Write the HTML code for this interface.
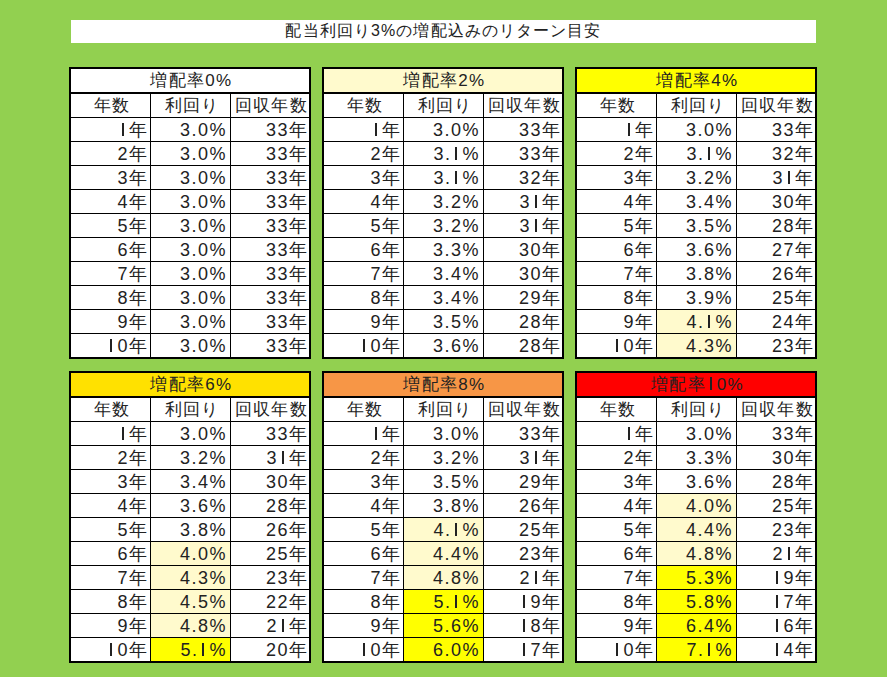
<!DOCTYPE html>
<html><head><meta charset="utf-8"><style>
html,body{margin:0;padding:0;}
body{width:887px;height:677px;background:#92D050;position:relative;overflow:hidden;font-family:"Liberation Sans",sans-serif;color:#222;}
.b{position:absolute;}
.tt{position:absolute;left:71px;top:20px;width:745px;height:23px;background:#fff;font-size:16px;line-height:21px;text-align:center;letter-spacing:1.1px;white-space:nowrap;}
.tc,.hc,.dc{position:absolute;font-size:18px;line-height:23px;white-space:nowrap;}
.tc,.hc{text-align:center;letter-spacing:1.3px;box-sizing:border-box;padding-left:3px;font-size:17px !important;}
.dc{text-align:right;box-sizing:border-box;padding-right:3px;line-height:25px;}
.c2{padding-right:2px;}
.one{display:inline-block;position:relative;width:11px;height:13px;color:transparent;overflow:hidden;vertical-align:baseline;}
.one::after{content:'';position:absolute;left:4px;top:0;width:2px;height:13px;background:#222;}
.d{letter-spacing:1.5px;}
</style></head><body>
<div class="tt">配当利回り3%の増配込みのリターン目安</div>
<div class="b" style="left:69px;top:67px;width:242px;height:292px;background:#000;"></div>
<div class="b" style="left:71px;top:69px;width:238px;height:23px;background:#FFFFFF;"></div>
<div class="tc" style="left:71px;top:69px;width:238px;height:23px">増配率0%</div>
<div class="b" style="left:71px;top:94px;width:79px;height:23px;background:#fff;"></div>
<div class="hc" style="left:71px;top:94px;width:79px;height:23px">年数</div>
<div class="b" style="left:151px;top:94px;width:79px;height:23px;background:#fff;"></div>
<div class="hc" style="left:151px;top:94px;width:79px;height:23px">利回り</div>
<div class="b" style="left:231px;top:94px;width:78px;height:23px;background:#fff;"></div>
<div class="hc" style="left:231px;top:94px;width:78px;height:23px">回収年数</div>
<div class="b" style="left:71px;top:118px;width:79px;height:23px;background:#fff;"></div>
<div class="dc" style="left:71px;top:118px;width:79px;height:23px"><span class="d"><span class="one">1</span></span>年</div>
<div class="b" style="left:151px;top:118px;width:79px;height:23px;background:#fff;"></div>
<div class="dc" style="left:151px;top:118px;width:79px;height:23px"><span class="d">3.0%</span></div>
<div class="b" style="left:231px;top:118px;width:78px;height:23px;background:#fff;"></div>
<div class="dc c2" style="left:231px;top:118px;width:78px;height:23px"><span class="d">33</span>年</div>
<div class="b" style="left:71px;top:142px;width:79px;height:23px;background:#fff;"></div>
<div class="dc" style="left:71px;top:142px;width:79px;height:23px"><span class="d">2</span>年</div>
<div class="b" style="left:151px;top:142px;width:79px;height:23px;background:#fff;"></div>
<div class="dc" style="left:151px;top:142px;width:79px;height:23px"><span class="d">3.0%</span></div>
<div class="b" style="left:231px;top:142px;width:78px;height:23px;background:#fff;"></div>
<div class="dc c2" style="left:231px;top:142px;width:78px;height:23px"><span class="d">33</span>年</div>
<div class="b" style="left:71px;top:166px;width:79px;height:23px;background:#fff;"></div>
<div class="dc" style="left:71px;top:166px;width:79px;height:23px"><span class="d">3</span>年</div>
<div class="b" style="left:151px;top:166px;width:79px;height:23px;background:#fff;"></div>
<div class="dc" style="left:151px;top:166px;width:79px;height:23px"><span class="d">3.0%</span></div>
<div class="b" style="left:231px;top:166px;width:78px;height:23px;background:#fff;"></div>
<div class="dc c2" style="left:231px;top:166px;width:78px;height:23px"><span class="d">33</span>年</div>
<div class="b" style="left:71px;top:190px;width:79px;height:23px;background:#fff;"></div>
<div class="dc" style="left:71px;top:190px;width:79px;height:23px"><span class="d">4</span>年</div>
<div class="b" style="left:151px;top:190px;width:79px;height:23px;background:#fff;"></div>
<div class="dc" style="left:151px;top:190px;width:79px;height:23px"><span class="d">3.0%</span></div>
<div class="b" style="left:231px;top:190px;width:78px;height:23px;background:#fff;"></div>
<div class="dc c2" style="left:231px;top:190px;width:78px;height:23px"><span class="d">33</span>年</div>
<div class="b" style="left:71px;top:214px;width:79px;height:23px;background:#fff;"></div>
<div class="dc" style="left:71px;top:214px;width:79px;height:23px"><span class="d">5</span>年</div>
<div class="b" style="left:151px;top:214px;width:79px;height:23px;background:#fff;"></div>
<div class="dc" style="left:151px;top:214px;width:79px;height:23px"><span class="d">3.0%</span></div>
<div class="b" style="left:231px;top:214px;width:78px;height:23px;background:#fff;"></div>
<div class="dc c2" style="left:231px;top:214px;width:78px;height:23px"><span class="d">33</span>年</div>
<div class="b" style="left:71px;top:238px;width:79px;height:23px;background:#fff;"></div>
<div class="dc" style="left:71px;top:238px;width:79px;height:23px"><span class="d">6</span>年</div>
<div class="b" style="left:151px;top:238px;width:79px;height:23px;background:#fff;"></div>
<div class="dc" style="left:151px;top:238px;width:79px;height:23px"><span class="d">3.0%</span></div>
<div class="b" style="left:231px;top:238px;width:78px;height:23px;background:#fff;"></div>
<div class="dc c2" style="left:231px;top:238px;width:78px;height:23px"><span class="d">33</span>年</div>
<div class="b" style="left:71px;top:262px;width:79px;height:23px;background:#fff;"></div>
<div class="dc" style="left:71px;top:262px;width:79px;height:23px"><span class="d">7</span>年</div>
<div class="b" style="left:151px;top:262px;width:79px;height:23px;background:#fff;"></div>
<div class="dc" style="left:151px;top:262px;width:79px;height:23px"><span class="d">3.0%</span></div>
<div class="b" style="left:231px;top:262px;width:78px;height:23px;background:#fff;"></div>
<div class="dc c2" style="left:231px;top:262px;width:78px;height:23px"><span class="d">33</span>年</div>
<div class="b" style="left:71px;top:286px;width:79px;height:23px;background:#fff;"></div>
<div class="dc" style="left:71px;top:286px;width:79px;height:23px"><span class="d">8</span>年</div>
<div class="b" style="left:151px;top:286px;width:79px;height:23px;background:#fff;"></div>
<div class="dc" style="left:151px;top:286px;width:79px;height:23px"><span class="d">3.0%</span></div>
<div class="b" style="left:231px;top:286px;width:78px;height:23px;background:#fff;"></div>
<div class="dc c2" style="left:231px;top:286px;width:78px;height:23px"><span class="d">33</span>年</div>
<div class="b" style="left:71px;top:310px;width:79px;height:23px;background:#fff;"></div>
<div class="dc" style="left:71px;top:310px;width:79px;height:23px"><span class="d">9</span>年</div>
<div class="b" style="left:151px;top:310px;width:79px;height:23px;background:#fff;"></div>
<div class="dc" style="left:151px;top:310px;width:79px;height:23px"><span class="d">3.0%</span></div>
<div class="b" style="left:231px;top:310px;width:78px;height:23px;background:#fff;"></div>
<div class="dc c2" style="left:231px;top:310px;width:78px;height:23px"><span class="d">33</span>年</div>
<div class="b" style="left:71px;top:334px;width:79px;height:23px;background:#fff;"></div>
<div class="dc" style="left:71px;top:334px;width:79px;height:23px"><span class="d"><span class="one">1</span>0</span>年</div>
<div class="b" style="left:151px;top:334px;width:79px;height:23px;background:#fff;"></div>
<div class="dc" style="left:151px;top:334px;width:79px;height:23px"><span class="d">3.0%</span></div>
<div class="b" style="left:231px;top:334px;width:78px;height:23px;background:#fff;"></div>
<div class="dc c2" style="left:231px;top:334px;width:78px;height:23px"><span class="d">33</span>年</div>
<div class="b" style="left:322px;top:67px;width:242px;height:292px;background:#000;"></div>
<div class="b" style="left:324px;top:69px;width:238px;height:23px;background:#FFFACD;"></div>
<div class="tc" style="left:324px;top:69px;width:238px;height:23px">増配率2%</div>
<div class="b" style="left:324px;top:94px;width:79px;height:23px;background:#fff;"></div>
<div class="hc" style="left:324px;top:94px;width:79px;height:23px">年数</div>
<div class="b" style="left:404px;top:94px;width:79px;height:23px;background:#fff;"></div>
<div class="hc" style="left:404px;top:94px;width:79px;height:23px">利回り</div>
<div class="b" style="left:484px;top:94px;width:78px;height:23px;background:#fff;"></div>
<div class="hc" style="left:484px;top:94px;width:78px;height:23px">回収年数</div>
<div class="b" style="left:324px;top:118px;width:79px;height:23px;background:#fff;"></div>
<div class="dc" style="left:324px;top:118px;width:79px;height:23px"><span class="d"><span class="one">1</span></span>年</div>
<div class="b" style="left:404px;top:118px;width:79px;height:23px;background:#fff;"></div>
<div class="dc" style="left:404px;top:118px;width:79px;height:23px"><span class="d">3.0%</span></div>
<div class="b" style="left:484px;top:118px;width:78px;height:23px;background:#fff;"></div>
<div class="dc c2" style="left:484px;top:118px;width:78px;height:23px"><span class="d">33</span>年</div>
<div class="b" style="left:324px;top:142px;width:79px;height:23px;background:#fff;"></div>
<div class="dc" style="left:324px;top:142px;width:79px;height:23px"><span class="d">2</span>年</div>
<div class="b" style="left:404px;top:142px;width:79px;height:23px;background:#fff;"></div>
<div class="dc" style="left:404px;top:142px;width:79px;height:23px"><span class="d">3.<span class="one">1</span>%</span></div>
<div class="b" style="left:484px;top:142px;width:78px;height:23px;background:#fff;"></div>
<div class="dc c2" style="left:484px;top:142px;width:78px;height:23px"><span class="d">33</span>年</div>
<div class="b" style="left:324px;top:166px;width:79px;height:23px;background:#fff;"></div>
<div class="dc" style="left:324px;top:166px;width:79px;height:23px"><span class="d">3</span>年</div>
<div class="b" style="left:404px;top:166px;width:79px;height:23px;background:#fff;"></div>
<div class="dc" style="left:404px;top:166px;width:79px;height:23px"><span class="d">3.<span class="one">1</span>%</span></div>
<div class="b" style="left:484px;top:166px;width:78px;height:23px;background:#fff;"></div>
<div class="dc c2" style="left:484px;top:166px;width:78px;height:23px"><span class="d">32</span>年</div>
<div class="b" style="left:324px;top:190px;width:79px;height:23px;background:#fff;"></div>
<div class="dc" style="left:324px;top:190px;width:79px;height:23px"><span class="d">4</span>年</div>
<div class="b" style="left:404px;top:190px;width:79px;height:23px;background:#fff;"></div>
<div class="dc" style="left:404px;top:190px;width:79px;height:23px"><span class="d">3.2%</span></div>
<div class="b" style="left:484px;top:190px;width:78px;height:23px;background:#fff;"></div>
<div class="dc c2" style="left:484px;top:190px;width:78px;height:23px"><span class="d">3<span class="one">1</span></span>年</div>
<div class="b" style="left:324px;top:214px;width:79px;height:23px;background:#fff;"></div>
<div class="dc" style="left:324px;top:214px;width:79px;height:23px"><span class="d">5</span>年</div>
<div class="b" style="left:404px;top:214px;width:79px;height:23px;background:#fff;"></div>
<div class="dc" style="left:404px;top:214px;width:79px;height:23px"><span class="d">3.2%</span></div>
<div class="b" style="left:484px;top:214px;width:78px;height:23px;background:#fff;"></div>
<div class="dc c2" style="left:484px;top:214px;width:78px;height:23px"><span class="d">3<span class="one">1</span></span>年</div>
<div class="b" style="left:324px;top:238px;width:79px;height:23px;background:#fff;"></div>
<div class="dc" style="left:324px;top:238px;width:79px;height:23px"><span class="d">6</span>年</div>
<div class="b" style="left:404px;top:238px;width:79px;height:23px;background:#fff;"></div>
<div class="dc" style="left:404px;top:238px;width:79px;height:23px"><span class="d">3.3%</span></div>
<div class="b" style="left:484px;top:238px;width:78px;height:23px;background:#fff;"></div>
<div class="dc c2" style="left:484px;top:238px;width:78px;height:23px"><span class="d">30</span>年</div>
<div class="b" style="left:324px;top:262px;width:79px;height:23px;background:#fff;"></div>
<div class="dc" style="left:324px;top:262px;width:79px;height:23px"><span class="d">7</span>年</div>
<div class="b" style="left:404px;top:262px;width:79px;height:23px;background:#fff;"></div>
<div class="dc" style="left:404px;top:262px;width:79px;height:23px"><span class="d">3.4%</span></div>
<div class="b" style="left:484px;top:262px;width:78px;height:23px;background:#fff;"></div>
<div class="dc c2" style="left:484px;top:262px;width:78px;height:23px"><span class="d">30</span>年</div>
<div class="b" style="left:324px;top:286px;width:79px;height:23px;background:#fff;"></div>
<div class="dc" style="left:324px;top:286px;width:79px;height:23px"><span class="d">8</span>年</div>
<div class="b" style="left:404px;top:286px;width:79px;height:23px;background:#fff;"></div>
<div class="dc" style="left:404px;top:286px;width:79px;height:23px"><span class="d">3.4%</span></div>
<div class="b" style="left:484px;top:286px;width:78px;height:23px;background:#fff;"></div>
<div class="dc c2" style="left:484px;top:286px;width:78px;height:23px"><span class="d">29</span>年</div>
<div class="b" style="left:324px;top:310px;width:79px;height:23px;background:#fff;"></div>
<div class="dc" style="left:324px;top:310px;width:79px;height:23px"><span class="d">9</span>年</div>
<div class="b" style="left:404px;top:310px;width:79px;height:23px;background:#fff;"></div>
<div class="dc" style="left:404px;top:310px;width:79px;height:23px"><span class="d">3.5%</span></div>
<div class="b" style="left:484px;top:310px;width:78px;height:23px;background:#fff;"></div>
<div class="dc c2" style="left:484px;top:310px;width:78px;height:23px"><span class="d">28</span>年</div>
<div class="b" style="left:324px;top:334px;width:79px;height:23px;background:#fff;"></div>
<div class="dc" style="left:324px;top:334px;width:79px;height:23px"><span class="d"><span class="one">1</span>0</span>年</div>
<div class="b" style="left:404px;top:334px;width:79px;height:23px;background:#fff;"></div>
<div class="dc" style="left:404px;top:334px;width:79px;height:23px"><span class="d">3.6%</span></div>
<div class="b" style="left:484px;top:334px;width:78px;height:23px;background:#fff;"></div>
<div class="dc c2" style="left:484px;top:334px;width:78px;height:23px"><span class="d">28</span>年</div>
<div class="b" style="left:575px;top:67px;width:242px;height:292px;background:#000;"></div>
<div class="b" style="left:577px;top:69px;width:238px;height:23px;background:#FFFF00;"></div>
<div class="tc" style="left:577px;top:69px;width:238px;height:23px">増配率4%</div>
<div class="b" style="left:577px;top:94px;width:79px;height:23px;background:#fff;"></div>
<div class="hc" style="left:577px;top:94px;width:79px;height:23px">年数</div>
<div class="b" style="left:657px;top:94px;width:79px;height:23px;background:#fff;"></div>
<div class="hc" style="left:657px;top:94px;width:79px;height:23px">利回り</div>
<div class="b" style="left:737px;top:94px;width:78px;height:23px;background:#fff;"></div>
<div class="hc" style="left:737px;top:94px;width:78px;height:23px">回収年数</div>
<div class="b" style="left:577px;top:118px;width:79px;height:23px;background:#fff;"></div>
<div class="dc" style="left:577px;top:118px;width:79px;height:23px"><span class="d"><span class="one">1</span></span>年</div>
<div class="b" style="left:657px;top:118px;width:79px;height:23px;background:#fff;"></div>
<div class="dc" style="left:657px;top:118px;width:79px;height:23px"><span class="d">3.0%</span></div>
<div class="b" style="left:737px;top:118px;width:78px;height:23px;background:#fff;"></div>
<div class="dc c2" style="left:737px;top:118px;width:78px;height:23px"><span class="d">33</span>年</div>
<div class="b" style="left:577px;top:142px;width:79px;height:23px;background:#fff;"></div>
<div class="dc" style="left:577px;top:142px;width:79px;height:23px"><span class="d">2</span>年</div>
<div class="b" style="left:657px;top:142px;width:79px;height:23px;background:#fff;"></div>
<div class="dc" style="left:657px;top:142px;width:79px;height:23px"><span class="d">3.<span class="one">1</span>%</span></div>
<div class="b" style="left:737px;top:142px;width:78px;height:23px;background:#fff;"></div>
<div class="dc c2" style="left:737px;top:142px;width:78px;height:23px"><span class="d">32</span>年</div>
<div class="b" style="left:577px;top:166px;width:79px;height:23px;background:#fff;"></div>
<div class="dc" style="left:577px;top:166px;width:79px;height:23px"><span class="d">3</span>年</div>
<div class="b" style="left:657px;top:166px;width:79px;height:23px;background:#fff;"></div>
<div class="dc" style="left:657px;top:166px;width:79px;height:23px"><span class="d">3.2%</span></div>
<div class="b" style="left:737px;top:166px;width:78px;height:23px;background:#fff;"></div>
<div class="dc c2" style="left:737px;top:166px;width:78px;height:23px"><span class="d">3<span class="one">1</span></span>年</div>
<div class="b" style="left:577px;top:190px;width:79px;height:23px;background:#fff;"></div>
<div class="dc" style="left:577px;top:190px;width:79px;height:23px"><span class="d">4</span>年</div>
<div class="b" style="left:657px;top:190px;width:79px;height:23px;background:#fff;"></div>
<div class="dc" style="left:657px;top:190px;width:79px;height:23px"><span class="d">3.4%</span></div>
<div class="b" style="left:737px;top:190px;width:78px;height:23px;background:#fff;"></div>
<div class="dc c2" style="left:737px;top:190px;width:78px;height:23px"><span class="d">30</span>年</div>
<div class="b" style="left:577px;top:214px;width:79px;height:23px;background:#fff;"></div>
<div class="dc" style="left:577px;top:214px;width:79px;height:23px"><span class="d">5</span>年</div>
<div class="b" style="left:657px;top:214px;width:79px;height:23px;background:#fff;"></div>
<div class="dc" style="left:657px;top:214px;width:79px;height:23px"><span class="d">3.5%</span></div>
<div class="b" style="left:737px;top:214px;width:78px;height:23px;background:#fff;"></div>
<div class="dc c2" style="left:737px;top:214px;width:78px;height:23px"><span class="d">28</span>年</div>
<div class="b" style="left:577px;top:238px;width:79px;height:23px;background:#fff;"></div>
<div class="dc" style="left:577px;top:238px;width:79px;height:23px"><span class="d">6</span>年</div>
<div class="b" style="left:657px;top:238px;width:79px;height:23px;background:#fff;"></div>
<div class="dc" style="left:657px;top:238px;width:79px;height:23px"><span class="d">3.6%</span></div>
<div class="b" style="left:737px;top:238px;width:78px;height:23px;background:#fff;"></div>
<div class="dc c2" style="left:737px;top:238px;width:78px;height:23px"><span class="d">27</span>年</div>
<div class="b" style="left:577px;top:262px;width:79px;height:23px;background:#fff;"></div>
<div class="dc" style="left:577px;top:262px;width:79px;height:23px"><span class="d">7</span>年</div>
<div class="b" style="left:657px;top:262px;width:79px;height:23px;background:#fff;"></div>
<div class="dc" style="left:657px;top:262px;width:79px;height:23px"><span class="d">3.8%</span></div>
<div class="b" style="left:737px;top:262px;width:78px;height:23px;background:#fff;"></div>
<div class="dc c2" style="left:737px;top:262px;width:78px;height:23px"><span class="d">26</span>年</div>
<div class="b" style="left:577px;top:286px;width:79px;height:23px;background:#fff;"></div>
<div class="dc" style="left:577px;top:286px;width:79px;height:23px"><span class="d">8</span>年</div>
<div class="b" style="left:657px;top:286px;width:79px;height:23px;background:#fff;"></div>
<div class="dc" style="left:657px;top:286px;width:79px;height:23px"><span class="d">3.9%</span></div>
<div class="b" style="left:737px;top:286px;width:78px;height:23px;background:#fff;"></div>
<div class="dc c2" style="left:737px;top:286px;width:78px;height:23px"><span class="d">25</span>年</div>
<div class="b" style="left:577px;top:310px;width:79px;height:23px;background:#fff;"></div>
<div class="dc" style="left:577px;top:310px;width:79px;height:23px"><span class="d">9</span>年</div>
<div class="b" style="left:657px;top:310px;width:79px;height:23px;background:#FFFACD;"></div>
<div class="dc" style="left:657px;top:310px;width:79px;height:23px"><span class="d">4.<span class="one">1</span>%</span></div>
<div class="b" style="left:737px;top:310px;width:78px;height:23px;background:#fff;"></div>
<div class="dc c2" style="left:737px;top:310px;width:78px;height:23px"><span class="d">24</span>年</div>
<div class="b" style="left:577px;top:334px;width:79px;height:23px;background:#fff;"></div>
<div class="dc" style="left:577px;top:334px;width:79px;height:23px"><span class="d"><span class="one">1</span>0</span>年</div>
<div class="b" style="left:657px;top:334px;width:79px;height:23px;background:#FFFACD;"></div>
<div class="dc" style="left:657px;top:334px;width:79px;height:23px"><span class="d">4.3%</span></div>
<div class="b" style="left:737px;top:334px;width:78px;height:23px;background:#fff;"></div>
<div class="dc c2" style="left:737px;top:334px;width:78px;height:23px"><span class="d">23</span>年</div>
<div class="b" style="left:69px;top:371px;width:242px;height:292px;background:#000;"></div>
<div class="b" style="left:71px;top:373px;width:238px;height:23px;background:#FFE100;"></div>
<div class="tc" style="left:71px;top:373px;width:238px;height:23px">増配率6%</div>
<div class="b" style="left:71px;top:398px;width:79px;height:23px;background:#fff;"></div>
<div class="hc" style="left:71px;top:398px;width:79px;height:23px">年数</div>
<div class="b" style="left:151px;top:398px;width:79px;height:23px;background:#fff;"></div>
<div class="hc" style="left:151px;top:398px;width:79px;height:23px">利回り</div>
<div class="b" style="left:231px;top:398px;width:78px;height:23px;background:#fff;"></div>
<div class="hc" style="left:231px;top:398px;width:78px;height:23px">回収年数</div>
<div class="b" style="left:71px;top:422px;width:79px;height:23px;background:#fff;"></div>
<div class="dc" style="left:71px;top:422px;width:79px;height:23px"><span class="d"><span class="one">1</span></span>年</div>
<div class="b" style="left:151px;top:422px;width:79px;height:23px;background:#fff;"></div>
<div class="dc" style="left:151px;top:422px;width:79px;height:23px"><span class="d">3.0%</span></div>
<div class="b" style="left:231px;top:422px;width:78px;height:23px;background:#fff;"></div>
<div class="dc c2" style="left:231px;top:422px;width:78px;height:23px"><span class="d">33</span>年</div>
<div class="b" style="left:71px;top:446px;width:79px;height:23px;background:#fff;"></div>
<div class="dc" style="left:71px;top:446px;width:79px;height:23px"><span class="d">2</span>年</div>
<div class="b" style="left:151px;top:446px;width:79px;height:23px;background:#fff;"></div>
<div class="dc" style="left:151px;top:446px;width:79px;height:23px"><span class="d">3.2%</span></div>
<div class="b" style="left:231px;top:446px;width:78px;height:23px;background:#fff;"></div>
<div class="dc c2" style="left:231px;top:446px;width:78px;height:23px"><span class="d">3<span class="one">1</span></span>年</div>
<div class="b" style="left:71px;top:470px;width:79px;height:23px;background:#fff;"></div>
<div class="dc" style="left:71px;top:470px;width:79px;height:23px"><span class="d">3</span>年</div>
<div class="b" style="left:151px;top:470px;width:79px;height:23px;background:#fff;"></div>
<div class="dc" style="left:151px;top:470px;width:79px;height:23px"><span class="d">3.4%</span></div>
<div class="b" style="left:231px;top:470px;width:78px;height:23px;background:#fff;"></div>
<div class="dc c2" style="left:231px;top:470px;width:78px;height:23px"><span class="d">30</span>年</div>
<div class="b" style="left:71px;top:494px;width:79px;height:23px;background:#fff;"></div>
<div class="dc" style="left:71px;top:494px;width:79px;height:23px"><span class="d">4</span>年</div>
<div class="b" style="left:151px;top:494px;width:79px;height:23px;background:#fff;"></div>
<div class="dc" style="left:151px;top:494px;width:79px;height:23px"><span class="d">3.6%</span></div>
<div class="b" style="left:231px;top:494px;width:78px;height:23px;background:#fff;"></div>
<div class="dc c2" style="left:231px;top:494px;width:78px;height:23px"><span class="d">28</span>年</div>
<div class="b" style="left:71px;top:518px;width:79px;height:23px;background:#fff;"></div>
<div class="dc" style="left:71px;top:518px;width:79px;height:23px"><span class="d">5</span>年</div>
<div class="b" style="left:151px;top:518px;width:79px;height:23px;background:#fff;"></div>
<div class="dc" style="left:151px;top:518px;width:79px;height:23px"><span class="d">3.8%</span></div>
<div class="b" style="left:231px;top:518px;width:78px;height:23px;background:#fff;"></div>
<div class="dc c2" style="left:231px;top:518px;width:78px;height:23px"><span class="d">26</span>年</div>
<div class="b" style="left:71px;top:542px;width:79px;height:23px;background:#fff;"></div>
<div class="dc" style="left:71px;top:542px;width:79px;height:23px"><span class="d">6</span>年</div>
<div class="b" style="left:151px;top:542px;width:79px;height:23px;background:#FFFACD;"></div>
<div class="dc" style="left:151px;top:542px;width:79px;height:23px"><span class="d">4.0%</span></div>
<div class="b" style="left:231px;top:542px;width:78px;height:23px;background:#fff;"></div>
<div class="dc c2" style="left:231px;top:542px;width:78px;height:23px"><span class="d">25</span>年</div>
<div class="b" style="left:71px;top:566px;width:79px;height:23px;background:#fff;"></div>
<div class="dc" style="left:71px;top:566px;width:79px;height:23px"><span class="d">7</span>年</div>
<div class="b" style="left:151px;top:566px;width:79px;height:23px;background:#FFFACD;"></div>
<div class="dc" style="left:151px;top:566px;width:79px;height:23px"><span class="d">4.3%</span></div>
<div class="b" style="left:231px;top:566px;width:78px;height:23px;background:#fff;"></div>
<div class="dc c2" style="left:231px;top:566px;width:78px;height:23px"><span class="d">23</span>年</div>
<div class="b" style="left:71px;top:590px;width:79px;height:23px;background:#fff;"></div>
<div class="dc" style="left:71px;top:590px;width:79px;height:23px"><span class="d">8</span>年</div>
<div class="b" style="left:151px;top:590px;width:79px;height:23px;background:#FFFACD;"></div>
<div class="dc" style="left:151px;top:590px;width:79px;height:23px"><span class="d">4.5%</span></div>
<div class="b" style="left:231px;top:590px;width:78px;height:23px;background:#fff;"></div>
<div class="dc c2" style="left:231px;top:590px;width:78px;height:23px"><span class="d">22</span>年</div>
<div class="b" style="left:71px;top:614px;width:79px;height:23px;background:#fff;"></div>
<div class="dc" style="left:71px;top:614px;width:79px;height:23px"><span class="d">9</span>年</div>
<div class="b" style="left:151px;top:614px;width:79px;height:23px;background:#FFFACD;"></div>
<div class="dc" style="left:151px;top:614px;width:79px;height:23px"><span class="d">4.8%</span></div>
<div class="b" style="left:231px;top:614px;width:78px;height:23px;background:#fff;"></div>
<div class="dc c2" style="left:231px;top:614px;width:78px;height:23px"><span class="d">2<span class="one">1</span></span>年</div>
<div class="b" style="left:71px;top:638px;width:79px;height:23px;background:#fff;"></div>
<div class="dc" style="left:71px;top:638px;width:79px;height:23px"><span class="d"><span class="one">1</span>0</span>年</div>
<div class="b" style="left:151px;top:638px;width:79px;height:23px;background:#FFFF00;"></div>
<div class="dc" style="left:151px;top:638px;width:79px;height:23px"><span class="d">5.<span class="one">1</span>%</span></div>
<div class="b" style="left:231px;top:638px;width:78px;height:23px;background:#fff;"></div>
<div class="dc c2" style="left:231px;top:638px;width:78px;height:23px"><span class="d">20</span>年</div>
<div class="b" style="left:322px;top:371px;width:242px;height:292px;background:#000;"></div>
<div class="b" style="left:324px;top:373px;width:238px;height:23px;background:#F79646;"></div>
<div class="tc" style="left:324px;top:373px;width:238px;height:23px">増配率8%</div>
<div class="b" style="left:324px;top:398px;width:79px;height:23px;background:#fff;"></div>
<div class="hc" style="left:324px;top:398px;width:79px;height:23px">年数</div>
<div class="b" style="left:404px;top:398px;width:79px;height:23px;background:#fff;"></div>
<div class="hc" style="left:404px;top:398px;width:79px;height:23px">利回り</div>
<div class="b" style="left:484px;top:398px;width:78px;height:23px;background:#fff;"></div>
<div class="hc" style="left:484px;top:398px;width:78px;height:23px">回収年数</div>
<div class="b" style="left:324px;top:422px;width:79px;height:23px;background:#fff;"></div>
<div class="dc" style="left:324px;top:422px;width:79px;height:23px"><span class="d"><span class="one">1</span></span>年</div>
<div class="b" style="left:404px;top:422px;width:79px;height:23px;background:#fff;"></div>
<div class="dc" style="left:404px;top:422px;width:79px;height:23px"><span class="d">3.0%</span></div>
<div class="b" style="left:484px;top:422px;width:78px;height:23px;background:#fff;"></div>
<div class="dc c2" style="left:484px;top:422px;width:78px;height:23px"><span class="d">33</span>年</div>
<div class="b" style="left:324px;top:446px;width:79px;height:23px;background:#fff;"></div>
<div class="dc" style="left:324px;top:446px;width:79px;height:23px"><span class="d">2</span>年</div>
<div class="b" style="left:404px;top:446px;width:79px;height:23px;background:#fff;"></div>
<div class="dc" style="left:404px;top:446px;width:79px;height:23px"><span class="d">3.2%</span></div>
<div class="b" style="left:484px;top:446px;width:78px;height:23px;background:#fff;"></div>
<div class="dc c2" style="left:484px;top:446px;width:78px;height:23px"><span class="d">3<span class="one">1</span></span>年</div>
<div class="b" style="left:324px;top:470px;width:79px;height:23px;background:#fff;"></div>
<div class="dc" style="left:324px;top:470px;width:79px;height:23px"><span class="d">3</span>年</div>
<div class="b" style="left:404px;top:470px;width:79px;height:23px;background:#fff;"></div>
<div class="dc" style="left:404px;top:470px;width:79px;height:23px"><span class="d">3.5%</span></div>
<div class="b" style="left:484px;top:470px;width:78px;height:23px;background:#fff;"></div>
<div class="dc c2" style="left:484px;top:470px;width:78px;height:23px"><span class="d">29</span>年</div>
<div class="b" style="left:324px;top:494px;width:79px;height:23px;background:#fff;"></div>
<div class="dc" style="left:324px;top:494px;width:79px;height:23px"><span class="d">4</span>年</div>
<div class="b" style="left:404px;top:494px;width:79px;height:23px;background:#fff;"></div>
<div class="dc" style="left:404px;top:494px;width:79px;height:23px"><span class="d">3.8%</span></div>
<div class="b" style="left:484px;top:494px;width:78px;height:23px;background:#fff;"></div>
<div class="dc c2" style="left:484px;top:494px;width:78px;height:23px"><span class="d">26</span>年</div>
<div class="b" style="left:324px;top:518px;width:79px;height:23px;background:#fff;"></div>
<div class="dc" style="left:324px;top:518px;width:79px;height:23px"><span class="d">5</span>年</div>
<div class="b" style="left:404px;top:518px;width:79px;height:23px;background:#FFFACD;"></div>
<div class="dc" style="left:404px;top:518px;width:79px;height:23px"><span class="d">4.<span class="one">1</span>%</span></div>
<div class="b" style="left:484px;top:518px;width:78px;height:23px;background:#fff;"></div>
<div class="dc c2" style="left:484px;top:518px;width:78px;height:23px"><span class="d">25</span>年</div>
<div class="b" style="left:324px;top:542px;width:79px;height:23px;background:#fff;"></div>
<div class="dc" style="left:324px;top:542px;width:79px;height:23px"><span class="d">6</span>年</div>
<div class="b" style="left:404px;top:542px;width:79px;height:23px;background:#FFFACD;"></div>
<div class="dc" style="left:404px;top:542px;width:79px;height:23px"><span class="d">4.4%</span></div>
<div class="b" style="left:484px;top:542px;width:78px;height:23px;background:#fff;"></div>
<div class="dc c2" style="left:484px;top:542px;width:78px;height:23px"><span class="d">23</span>年</div>
<div class="b" style="left:324px;top:566px;width:79px;height:23px;background:#fff;"></div>
<div class="dc" style="left:324px;top:566px;width:79px;height:23px"><span class="d">7</span>年</div>
<div class="b" style="left:404px;top:566px;width:79px;height:23px;background:#FFFACD;"></div>
<div class="dc" style="left:404px;top:566px;width:79px;height:23px"><span class="d">4.8%</span></div>
<div class="b" style="left:484px;top:566px;width:78px;height:23px;background:#fff;"></div>
<div class="dc c2" style="left:484px;top:566px;width:78px;height:23px"><span class="d">2<span class="one">1</span></span>年</div>
<div class="b" style="left:324px;top:590px;width:79px;height:23px;background:#fff;"></div>
<div class="dc" style="left:324px;top:590px;width:79px;height:23px"><span class="d">8</span>年</div>
<div class="b" style="left:404px;top:590px;width:79px;height:23px;background:#FFFF00;"></div>
<div class="dc" style="left:404px;top:590px;width:79px;height:23px"><span class="d">5.<span class="one">1</span>%</span></div>
<div class="b" style="left:484px;top:590px;width:78px;height:23px;background:#fff;"></div>
<div class="dc c2" style="left:484px;top:590px;width:78px;height:23px"><span class="d"><span class="one">1</span>9</span>年</div>
<div class="b" style="left:324px;top:614px;width:79px;height:23px;background:#fff;"></div>
<div class="dc" style="left:324px;top:614px;width:79px;height:23px"><span class="d">9</span>年</div>
<div class="b" style="left:404px;top:614px;width:79px;height:23px;background:#FFFF00;"></div>
<div class="dc" style="left:404px;top:614px;width:79px;height:23px"><span class="d">5.6%</span></div>
<div class="b" style="left:484px;top:614px;width:78px;height:23px;background:#fff;"></div>
<div class="dc c2" style="left:484px;top:614px;width:78px;height:23px"><span class="d"><span class="one">1</span>8</span>年</div>
<div class="b" style="left:324px;top:638px;width:79px;height:23px;background:#fff;"></div>
<div class="dc" style="left:324px;top:638px;width:79px;height:23px"><span class="d"><span class="one">1</span>0</span>年</div>
<div class="b" style="left:404px;top:638px;width:79px;height:23px;background:#FFFF00;"></div>
<div class="dc" style="left:404px;top:638px;width:79px;height:23px"><span class="d">6.0%</span></div>
<div class="b" style="left:484px;top:638px;width:78px;height:23px;background:#fff;"></div>
<div class="dc c2" style="left:484px;top:638px;width:78px;height:23px"><span class="d"><span class="one">1</span>7</span>年</div>
<div class="b" style="left:575px;top:371px;width:242px;height:292px;background:#000;"></div>
<div class="b" style="left:577px;top:373px;width:238px;height:23px;background:#FF0000;"></div>
<div class="tc" style="left:577px;top:373px;width:238px;height:23px">増配率<span class="one">1</span>0%</div>
<div class="b" style="left:577px;top:398px;width:79px;height:23px;background:#fff;"></div>
<div class="hc" style="left:577px;top:398px;width:79px;height:23px">年数</div>
<div class="b" style="left:657px;top:398px;width:79px;height:23px;background:#fff;"></div>
<div class="hc" style="left:657px;top:398px;width:79px;height:23px">利回り</div>
<div class="b" style="left:737px;top:398px;width:78px;height:23px;background:#fff;"></div>
<div class="hc" style="left:737px;top:398px;width:78px;height:23px">回収年数</div>
<div class="b" style="left:577px;top:422px;width:79px;height:23px;background:#fff;"></div>
<div class="dc" style="left:577px;top:422px;width:79px;height:23px"><span class="d"><span class="one">1</span></span>年</div>
<div class="b" style="left:657px;top:422px;width:79px;height:23px;background:#fff;"></div>
<div class="dc" style="left:657px;top:422px;width:79px;height:23px"><span class="d">3.0%</span></div>
<div class="b" style="left:737px;top:422px;width:78px;height:23px;background:#fff;"></div>
<div class="dc c2" style="left:737px;top:422px;width:78px;height:23px"><span class="d">33</span>年</div>
<div class="b" style="left:577px;top:446px;width:79px;height:23px;background:#fff;"></div>
<div class="dc" style="left:577px;top:446px;width:79px;height:23px"><span class="d">2</span>年</div>
<div class="b" style="left:657px;top:446px;width:79px;height:23px;background:#fff;"></div>
<div class="dc" style="left:657px;top:446px;width:79px;height:23px"><span class="d">3.3%</span></div>
<div class="b" style="left:737px;top:446px;width:78px;height:23px;background:#fff;"></div>
<div class="dc c2" style="left:737px;top:446px;width:78px;height:23px"><span class="d">30</span>年</div>
<div class="b" style="left:577px;top:470px;width:79px;height:23px;background:#fff;"></div>
<div class="dc" style="left:577px;top:470px;width:79px;height:23px"><span class="d">3</span>年</div>
<div class="b" style="left:657px;top:470px;width:79px;height:23px;background:#fff;"></div>
<div class="dc" style="left:657px;top:470px;width:79px;height:23px"><span class="d">3.6%</span></div>
<div class="b" style="left:737px;top:470px;width:78px;height:23px;background:#fff;"></div>
<div class="dc c2" style="left:737px;top:470px;width:78px;height:23px"><span class="d">28</span>年</div>
<div class="b" style="left:577px;top:494px;width:79px;height:23px;background:#fff;"></div>
<div class="dc" style="left:577px;top:494px;width:79px;height:23px"><span class="d">4</span>年</div>
<div class="b" style="left:657px;top:494px;width:79px;height:23px;background:#FFFACD;"></div>
<div class="dc" style="left:657px;top:494px;width:79px;height:23px"><span class="d">4.0%</span></div>
<div class="b" style="left:737px;top:494px;width:78px;height:23px;background:#fff;"></div>
<div class="dc c2" style="left:737px;top:494px;width:78px;height:23px"><span class="d">25</span>年</div>
<div class="b" style="left:577px;top:518px;width:79px;height:23px;background:#fff;"></div>
<div class="dc" style="left:577px;top:518px;width:79px;height:23px"><span class="d">5</span>年</div>
<div class="b" style="left:657px;top:518px;width:79px;height:23px;background:#FFFACD;"></div>
<div class="dc" style="left:657px;top:518px;width:79px;height:23px"><span class="d">4.4%</span></div>
<div class="b" style="left:737px;top:518px;width:78px;height:23px;background:#fff;"></div>
<div class="dc c2" style="left:737px;top:518px;width:78px;height:23px"><span class="d">23</span>年</div>
<div class="b" style="left:577px;top:542px;width:79px;height:23px;background:#fff;"></div>
<div class="dc" style="left:577px;top:542px;width:79px;height:23px"><span class="d">6</span>年</div>
<div class="b" style="left:657px;top:542px;width:79px;height:23px;background:#FFFACD;"></div>
<div class="dc" style="left:657px;top:542px;width:79px;height:23px"><span class="d">4.8%</span></div>
<div class="b" style="left:737px;top:542px;width:78px;height:23px;background:#fff;"></div>
<div class="dc c2" style="left:737px;top:542px;width:78px;height:23px"><span class="d">2<span class="one">1</span></span>年</div>
<div class="b" style="left:577px;top:566px;width:79px;height:23px;background:#fff;"></div>
<div class="dc" style="left:577px;top:566px;width:79px;height:23px"><span class="d">7</span>年</div>
<div class="b" style="left:657px;top:566px;width:79px;height:23px;background:#FFFF00;"></div>
<div class="dc" style="left:657px;top:566px;width:79px;height:23px"><span class="d">5.3%</span></div>
<div class="b" style="left:737px;top:566px;width:78px;height:23px;background:#fff;"></div>
<div class="dc c2" style="left:737px;top:566px;width:78px;height:23px"><span class="d"><span class="one">1</span>9</span>年</div>
<div class="b" style="left:577px;top:590px;width:79px;height:23px;background:#fff;"></div>
<div class="dc" style="left:577px;top:590px;width:79px;height:23px"><span class="d">8</span>年</div>
<div class="b" style="left:657px;top:590px;width:79px;height:23px;background:#FFFF00;"></div>
<div class="dc" style="left:657px;top:590px;width:79px;height:23px"><span class="d">5.8%</span></div>
<div class="b" style="left:737px;top:590px;width:78px;height:23px;background:#fff;"></div>
<div class="dc c2" style="left:737px;top:590px;width:78px;height:23px"><span class="d"><span class="one">1</span>7</span>年</div>
<div class="b" style="left:577px;top:614px;width:79px;height:23px;background:#fff;"></div>
<div class="dc" style="left:577px;top:614px;width:79px;height:23px"><span class="d">9</span>年</div>
<div class="b" style="left:657px;top:614px;width:79px;height:23px;background:#FFFF00;"></div>
<div class="dc" style="left:657px;top:614px;width:79px;height:23px"><span class="d">6.4%</span></div>
<div class="b" style="left:737px;top:614px;width:78px;height:23px;background:#fff;"></div>
<div class="dc c2" style="left:737px;top:614px;width:78px;height:23px"><span class="d"><span class="one">1</span>6</span>年</div>
<div class="b" style="left:577px;top:638px;width:79px;height:23px;background:#fff;"></div>
<div class="dc" style="left:577px;top:638px;width:79px;height:23px"><span class="d"><span class="one">1</span>0</span>年</div>
<div class="b" style="left:657px;top:638px;width:79px;height:23px;background:#FFFF00;"></div>
<div class="dc" style="left:657px;top:638px;width:79px;height:23px"><span class="d">7.<span class="one">1</span>%</span></div>
<div class="b" style="left:737px;top:638px;width:78px;height:23px;background:#fff;"></div>
<div class="dc c2" style="left:737px;top:638px;width:78px;height:23px"><span class="d"><span class="one">1</span>4</span>年</div>
</body></html>
